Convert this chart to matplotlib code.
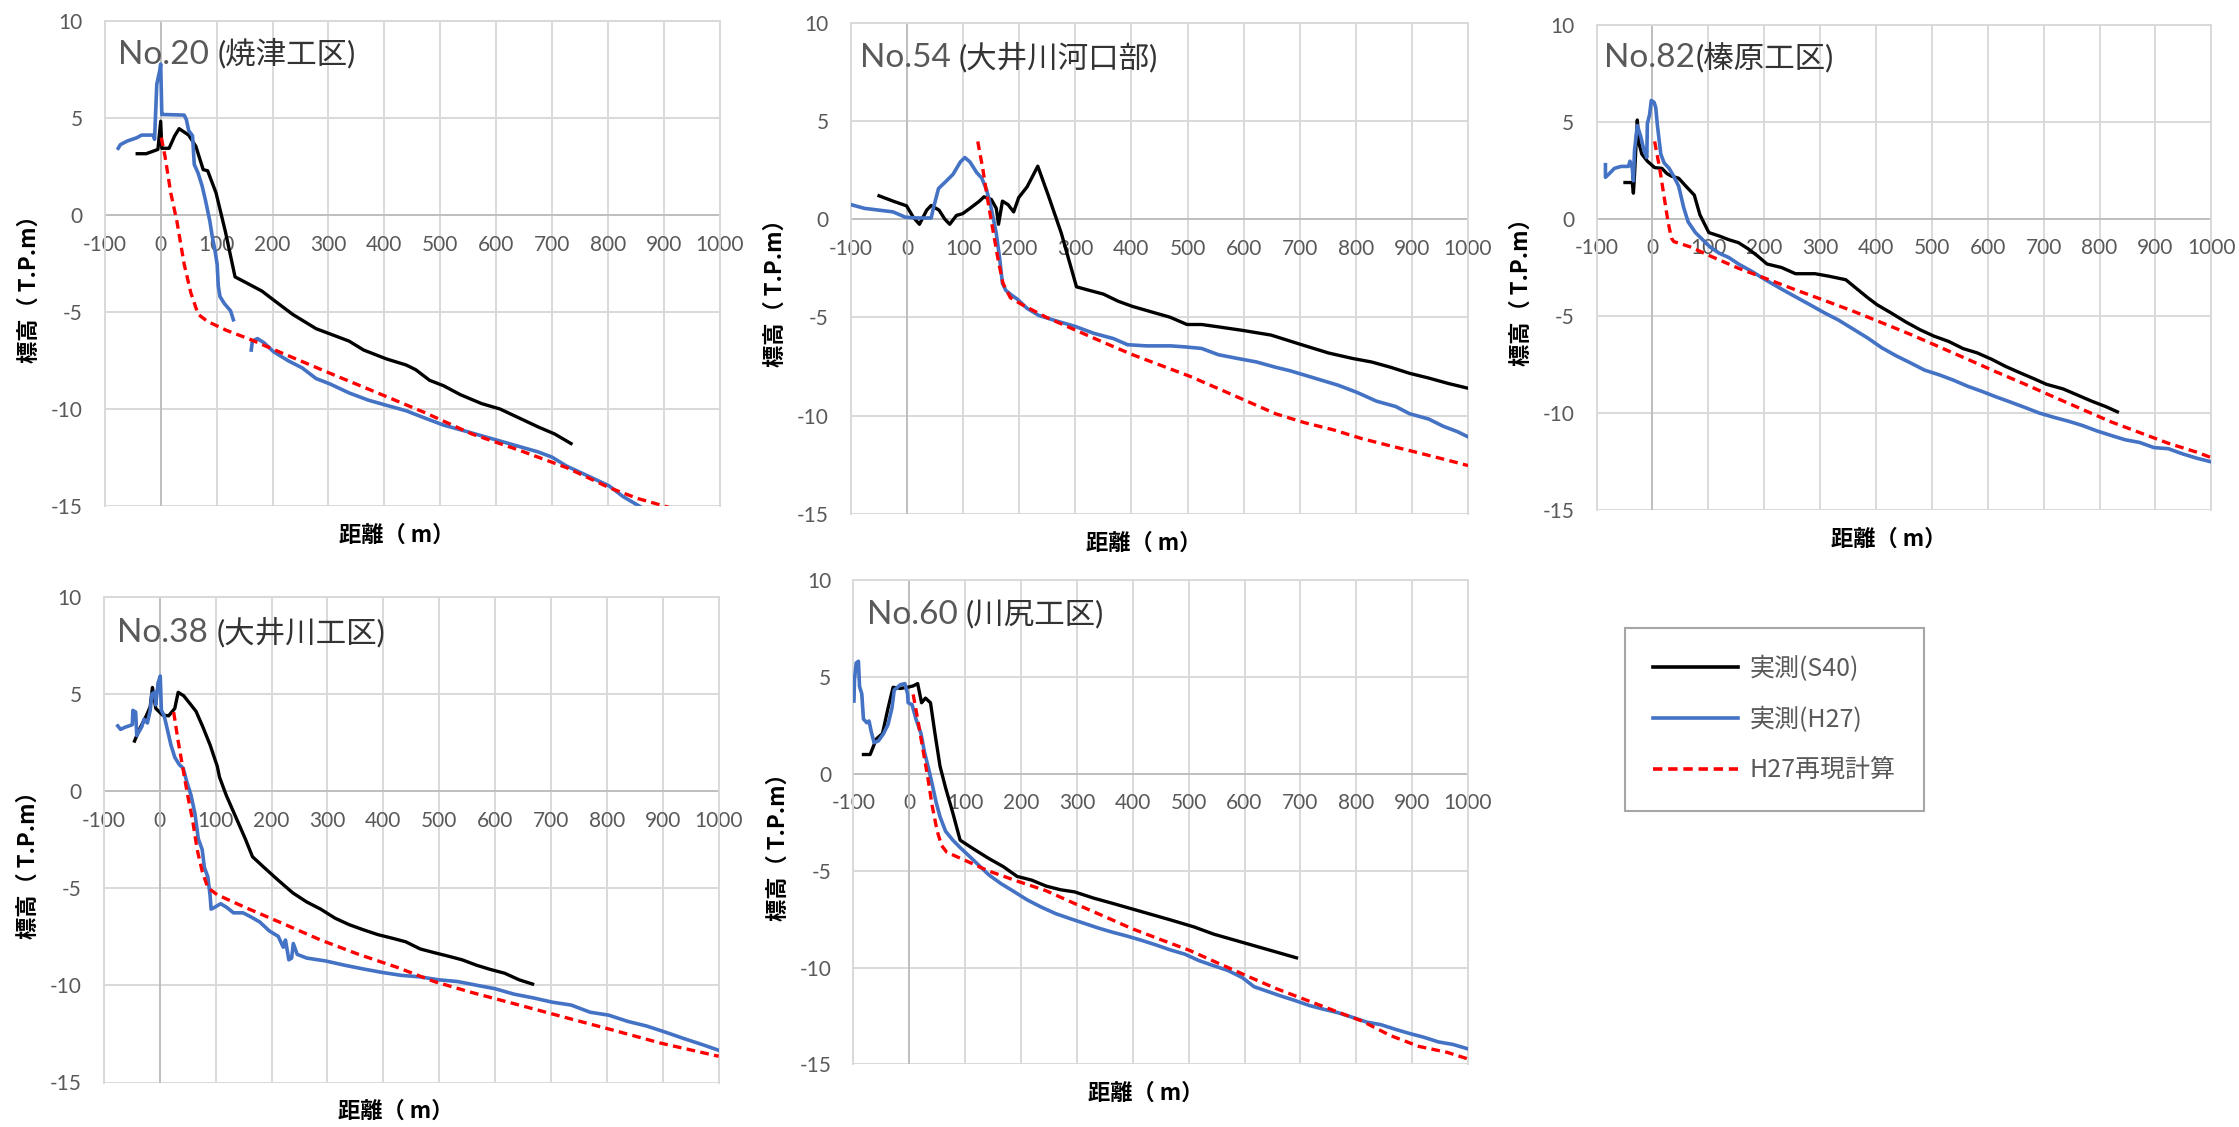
import numpy as np
import matplotlib
matplotlib.use("Agg")
import matplotlib.pyplot as plt
from matplotlib.lines import Line2D

plt.rcParams['axes.unicode_minus'] = False

JP = ['Noto Sans CJK JP', 'DejaVu Sans']
LATIN = ['Lato', 'Noto Sans CJK JP', 'DejaVu Sans']
TXT_GRAY = '#595959'
GRID = '#d9d9d9'
AXLINE = '#bfbfbf'

# ---- No.20 焼津工区 ----
no20_s40_x = [-42, -26, -5, 0, 2, 15, 25, 33, 50, 63, 76, 84, 99, 116, 133, 151, 181, 206, 236, 278,
              303, 337, 363, 404, 439, 456, 481, 506, 536, 574, 607, 641, 675, 705, 734]
no20_s40_y = [3.18, 3.18, 3.4, 4.85, 3.46, 3.46, 4.1, 4.47, 4.14, 3.55, 2.36, 2.3, 1.16, -0.87, -3.17,
              -3.44, -3.9, -4.45, -5.1, -5.84, -6.11, -6.48, -6.94, -7.4, -7.71, -7.95, -8.5, -8.78,
              -9.24, -9.7, -9.98, -10.44, -10.9, -11.27, -11.76]
no20_h27_x = [-76, -72, -60, -43, -34, -13, -11, -7, -2, 0, 2, 6, 42, 46, 50, 57, 60, 67, 74, 80, 84,
              88, 92, 97, 101, 103, 106, 114, 125, 130, np.nan, 162, 164, 173, 185, 202, 228, 253, 278,
              303, 337, 371, 404, 439, 472, 506, 540, 574, 607, 641, 675, 700, 726, 768, 802, 827, 857, 880]
no20_h27_y = [3.46, 3.65, 3.83, 4.0, 4.14, 4.14, 3.92, 6.77, 7.42, 7.8, 5.2, 5.2, 5.17, 4.93, 4.38, 4.1,
              2.63, 2.17, 1.53, 0.79, 0.24, -0.31, -1.05, -1.79, -2.52, -3.63, -4.18, -4.55, -4.92,
              -5.38, np.nan, -6.94, -6.48, -6.35, -6.57, -7.03, -7.49, -7.86, -8.41, -8.69, -9.15,
              -9.52, -9.79, -10.07, -10.44, -10.81, -11.08, -11.36, -11.63, -11.91, -12.19, -12.46,
              -12.92, -13.48, -13.94, -14.49, -15.0, -15.4]
no20_calc_x = [1, 8, 18, 29, 42, 54, 67, 84, 118, 160, 219, 303, 388, 472, 557, 641, 726, 802, 852, 915]
no20_calc_y = [4.01, 3.0, 1.16, -0.31, -2.52, -4.0, -5.1, -5.47, -5.93, -6.39, -7.12, -8.14, -9.15,
               -10.16, -11.27, -12.1, -13.0, -14.03, -14.58, -15.1]

# ---- No.54 大井川河口部 ----
no54_s40_x = [-50, -25, -1, 11, 22, 35, 43, 57, 67, 76, 88, 99, 112, 129, 137, 150, 159, 163, 170, 180,
              190, 199, 214, 233, 252, 275, 302, 325, 350, 376, 402, 436, 469, 499, 525, 555, 598, 649,
              700, 751, 794, 828, 862, 896, 930, 964, 1003]
no54_s40_y = [1.2, 0.93, 0.69, 0.11, -0.25, 0.47, 0.71, 0.47, 0.02, -0.25, 0.2, 0.29, 0.56, 0.93, 1.15,
              1.02, 0.56, -0.25, 0.93, 0.75, 0.38, 1.11, 1.66, 2.71, 1.2, -0.71, -3.44, -3.62, -3.81,
              -4.17, -4.44, -4.72, -4.99, -5.36, -5.36, -5.48, -5.66, -5.9, -6.36, -6.81, -7.09, -7.27,
              -7.54, -7.85, -8.09, -8.36, -8.63]
no54_h27_x = [-100, -76, -50, -25, -3, 18, 43, 46, 56, 69, 82, 95, 103, 112, 124, 133, 142, 150, 159,
              165, 170, 176, 184, 197, 214, 235, 265, 299, 333, 368, 393, 427, 470, 495, 525, 555, 589,
              623, 657, 683, 726, 768, 802, 837, 871, 896, 930, 956, 981, 1003]
no54_h27_y = [0.75, 0.56, 0.47, 0.38, 0.11, 0.07, 0.07, 0.47, 1.57, 1.93, 2.3, 2.93, 3.15, 2.93, 2.39,
              2.11, 1.48, 0.56, -0.71, -1.99, -3.26, -3.62, -3.81, -4.08, -4.54, -4.9, -5.17, -5.45,
              -5.81, -6.08, -6.39, -6.45, -6.45, -6.5, -6.58, -6.9, -7.09, -7.27, -7.54, -7.72, -8.09,
              -8.45, -8.82, -9.27, -9.54, -9.91, -10.18, -10.55, -10.82, -11.13]
no54_calc_x = [126, 135, 144, 154, 163, 171, 184, 205, 248, 299, 350, 402, 453, 504, 555, 606, 657, 708,
               760, 811, 862, 913, 964, 1000]
no54_calc_y = [3.97, 2.57, 0.93, -0.71, -2.17, -3.26, -3.99, -4.35, -4.99, -5.63, -6.27, -6.9, -7.45,
               -8.0, -8.63, -9.27, -9.91, -10.36, -10.73, -11.18, -11.55, -11.91, -12.28, -12.55]

# ---- No.82 榛原工区 ----
no82_s40_x = [-49, -36, -34, -32, -27, -24, -19, -9, 4, 17, 26, 34, 47, 60, 75, 85, 101, 120, 137, 154,
              171, 188, 205, 231, 256, 291, 316, 346, 368, 385, 402, 427, 453, 479, 504, 530, 556, 581,
              607, 632, 658, 684, 705, 735, 761, 786, 812, 832]
no82_s40_y = [1.88, 1.88, 1.33, 2.25, 5.1, 3.9, 3.35, 2.98, 2.65, 2.61, 2.34, 2.21, 2.1, 1.69, 1.23,
              0.22, -0.7, -0.88, -1.07, -1.22, -1.53, -1.9, -2.32, -2.5, -2.82, -2.82, -2.95, -3.13,
              -3.65, -4.05, -4.42, -4.84, -5.3, -5.71, -6.04, -6.31, -6.68, -6.9, -7.23, -7.6, -7.93,
              -8.25, -8.52, -8.76, -9.08, -9.39, -9.68, -9.94]
no82_h27_x = [-84, -84, -77, -68, -56, -43, -40, -36, -34, -32, -27, -21, -15, -10, -9, -5, -2, 3, 6, 9,
              15, 21, 30, 38, 47, 56, 64, 77, 90, 103, 120, 137, 154, 179, 205, 231, 256, 282, 308, 333,
              359, 385, 410, 436, 462, 487, 513, 538, 564, 590, 615, 641, 667, 692, 718, 744, 769, 795,
              821, 846, 872, 897, 923, 949, 974, 1000]
no82_h27_y = [2.8, 2.15, 2.34, 2.61, 2.71, 2.71, 2.98, 2.61, 1.97, 3.53, 4.82, 4.27, 3.53, 3.17, 4.92,
              5.38, 6.11, 6.02, 5.74, 4.82, 3.35, 2.89, 2.61, 2.21, 1.69, 0.59, -0.15, -0.7, -1.07,
              -1.44, -1.77, -1.99, -2.32, -2.72, -3.18, -3.61, -4.01, -4.42, -4.84, -5.21, -5.67, -6.13,
              -6.63, -7.05, -7.42, -7.79, -8.03, -8.3, -8.62, -8.89, -9.17, -9.44, -9.72, -10.0, -10.22,
              -10.42, -10.64, -10.92, -11.16, -11.38, -11.52, -11.78, -11.84, -12.11, -12.33, -12.52]
no82_calc_x = [4, 13, 21, 28, 34, 38, 68, 103, 154, 205, 256, 308, 359, 410, 462, 513, 564, 615, 667,
               718, 769, 821, 872, 923, 974, 1000]
no82_calc_y = [4.0, 2.61, 1.14, -0.15, -0.98, -1.16, -1.44, -1.9, -2.54, -3.09, -3.65, -4.2, -4.75,
               -5.34, -5.95, -6.59, -7.23, -7.88, -8.52, -9.17, -9.81, -10.46, -11.01, -11.56, -12.02, -12.3]

# ---- No.38 大井川工区 ----
no38_s40_x = [-45, -37, -24, -17, -13, -7, 5, 16, 27, 33, 43, 56, 65, 77, 90, 103, 107, 119, 136, 153,
              166, 187, 212, 238, 263, 288, 314, 339, 364, 390, 415, 440, 466, 491, 516, 541, 567, 592,
              617, 643, 667]
no38_s40_y = [2.59, 3.15, 3.89, 4.36, 5.35, 4.27, 3.93, 3.89, 4.27, 5.1, 4.92, 4.45, 4.12, 3.33, 2.4,
              1.29, 0.73, -0.2, -1.32, -2.44, -3.37, -3.93, -4.58, -5.23, -5.7, -6.07, -6.54, -6.87,
              -7.13, -7.38, -7.56, -7.75, -8.12, -8.31, -8.49, -8.68, -8.96, -9.18, -9.37, -9.71, -9.93]
no38_h27_x = [-75, -70, -62, -49, -48, -43, -41, -32, -28, -22, -17, -14, -9, -7, -3, 1, 3, 8, 14, 20,
              27, 35, 42, 48, 56, 63, 69, 76, 80, 86, 90, 92, 98, 109, 120, 132, 149, 162, 179, 196, 212,
              221, 225, 231, 236, 239, 246, 263, 297, 331, 364, 398, 432, 466, 499, 533, 567, 600, 634,
              668, 702, 736, 770, 803, 837, 871, 905, 938, 972, 1000]
no38_h27_y = [3.37, 3.19, 3.3, 3.43, 4.17, 4.08, 2.87, 3.33, 3.71, 3.52, 4.17, 5.01, 5.1, 4.45, 5.57,
              5.94, 4.17, 3.89, 3.15, 2.4, 1.75, 1.38, 1.19, 0.54, -0.2, -1.14, -2.44, -3.0, -3.93, -4.4,
              -5.33, -6.07, -5.98, -5.79, -5.98, -6.26, -6.26, -6.45, -6.73, -7.19, -7.47, -8.03, -7.66,
              -8.68, -8.59, -7.84, -8.4, -8.59, -8.74, -8.96, -9.15, -9.33, -9.48, -9.56, -9.71, -9.8,
              -9.99, -10.17, -10.45, -10.64, -10.86, -11.01, -11.38, -11.53, -11.85, -12.09, -12.41,
              -12.74, -13.06, -13.34]
no38_calc_x = [25, 33, 42, 50, 59, 67, 76, 86, 103, 153, 221, 288, 356, 423, 491, 558, 643, 727, 812,
               896, 1000]
no38_calc_y = [4.08, 2.59, 1.1, -0.2, -1.51, -3.0, -4.12, -4.96, -5.33, -5.98, -6.82, -7.66, -8.4,
               -9.05, -9.8, -10.36, -11.01, -11.66, -12.31, -12.97, -13.65]

# ---- No.60 川尻工区 ----
no60_s40_x = [-82, -70, -59, -48, -38, -29, -16, -3, 7, 15, 22, 29, 38, 46, 55, 65, 78, 91, 116, 142,
              168, 193, 219, 245, 271, 296, 330, 365, 399, 433, 467, 510, 545, 579, 613, 647, 693]
no60_s40_y = [0.99, 0.99, 1.79, 2.07, 3.38, 4.46, 4.4, 4.46, 4.53, 4.65, 3.66, 3.9, 3.66, 2.07, 0.39,
              -0.73, -2.03, -3.43, -3.9, -4.37, -4.79, -5.3, -5.49, -5.8, -5.99, -6.1, -6.42, -6.7,
              -6.98, -7.26, -7.54, -7.91, -8.28, -8.56, -8.84, -9.12, -9.5]
no60_h27_x = [-99, -98, -95, -91, -89, -85, -82, -76, -72, -68, -63, -55, -46, -38, -31, -27, -16, -8,
              -3, -2, 5, 12, 21, 27, 35, 41, 48, 55, 65, 78, 91, 108, 125, 142, 164, 185, 211, 236, 262,
              288, 313, 339, 365, 390, 416, 442, 467, 493, 519, 545, 570, 596, 617, 639, 664, 690, 716,
              741, 767, 793, 819, 844, 870, 896, 921, 947, 973, 1000]
no60_h27_y = [3.75, 4.87, 5.71, 5.8, 4.5, 4.12, 2.82, 2.63, 2.72, 2.16, 1.6, 1.7, 2.07, 2.54, 3.38,
              4.31, 4.59, 4.65, 4.12, 3.66, 3.56, 2.82, 2.07, 1.14, 0.21, -0.54, -1.47, -2.22, -2.97,
              -3.43, -3.81, -4.27, -4.74, -5.21, -5.67, -6.04, -6.51, -6.88, -7.22, -7.48, -7.72, -7.97,
              -8.19, -8.38, -8.6, -8.84, -9.09, -9.31, -9.65, -9.91, -10.15, -10.52, -10.99, -11.21,
              -11.46, -11.7, -11.96, -12.15, -12.33, -12.57, -12.82, -12.95, -13.19, -13.41, -13.6,
              -13.84, -13.97, -14.2]
no60_calc_x = [7, 15, 24, 33, 41, 50, 58, 67, 99, 142, 193, 245, 296, 348, 399, 450, 502, 553, 604, 656,
               707, 758, 810, 861, 912, 963, 1000]
no60_calc_y = [4.09, 2.82, 1.32, -0.17, -1.66, -2.97, -3.71, -4.05, -4.46, -5.02, -5.54, -6.04, -6.7,
               -7.35, -8.0, -8.56, -9.12, -9.78, -10.43, -11.08, -11.64, -12.2, -12.76, -13.51, -14.07,
               -14.38, -14.72]

x_ticks = list(range(-100, 1001, 100))
y_ticks = list(range(-15, 11, 5))
legend_labels = ['実測(S40)', '実測(H27)', 'H27再現計算']

W, H = 2239, 1127
fig = plt.figure(figsize=(W / 100, H / 100), dpi=100)


def px_rect(left, top, right, bottom):
    return [left / W, 1 - bottom / H, (right - left) / W, (bottom - top) / H]


def draw_panel(rect, no, place, title_xy, s40, h27, calc):
    ax = fig.add_axes(rect)
    ax.set_xlim(-100, 1000)
    ax.set_ylim(-15, 10)
    ax.set_xticks(x_ticks)
    ax.set_yticks(y_ticks)
    ax.grid(True, color=GRID, lw=1.4)
    ax.set_axisbelow(True)
    for side in ['top', 'right', 'left']:
        ax.spines[side].set_color(GRID)
        ax.spines[side].set_linewidth(1.4)
    # horizontal axis crosses at 0 like the spreadsheet chart
    ax.spines['bottom'].set_position(('data', 0))
    ax.spines['bottom'].set_color(AXLINE)
    ax.spines['bottom'].set_linewidth(1.4)
    ax.spines['bottom'].set_zorder(1)
    ax.axvline(0, color=AXLINE, lw=1.4, zorder=1)
    ax.tick_params(length=0, labelsize=15, labelcolor=TXT_GRAY)
    ax.tick_params(axis='x', pad=14)
    ax.tick_params(axis='y', pad=16)
    for lab in ax.get_xticklabels() + ax.get_yticklabels():
        lab.set_family(LATIN)

    ax.plot(*s40, color='black', lw=2.4, zorder=3)
    ax.plot(*h27, color='#4472C4', lw=2.6, zorder=4)
    ax.plot(*calc, color='#ff0000', lw=2.4, ls=(0, (2.6, 1.6)), zorder=5)

    tx, ty = title_xy
    t1 = ax.text(tx, ty, no, transform=ax.transAxes, family=LATIN, size=24,
                 color=TXT_GRAY, va='baseline', ha='left')
    ax.annotate(place, xy=(1, ty), xycoords=(t1, 'axes fraction'), family=LATIN,
                size=22, color='#333333', va='baseline', ha='left')

    ax.text(0.475, -0.06, '距離（ m）', transform=ax.transAxes, family=JP, size=16,
            fontweight='bold', ha='center', va='center', color='black')
    ax.text(-0.1224, 0.46, '標高（ T.P.m）', transform=ax.transAxes, family=JP, size=16,
            fontweight='bold', rotation=90, ha='center', va='center', color='black')
    return ax


draw_panel(px_rect(104.8, 21.4, 719.7, 506.4), 'No.20 ', '(焼津工区)', (0.0215, 0.913),
           (no20_s40_x, no20_s40_y), (no20_h27_x, no20_h27_y), (no20_calc_x, no20_calc_y))
draw_panel(px_rect(851, 23.2, 1468, 513.6), 'No.54 ', '(大井川河口部)', (0.014, 0.9105),
           (no54_s40_x, no54_s40_y), (no54_h27_x, no54_h27_y), (no54_calc_x, no54_calc_y))
draw_panel(px_rect(1596.5, 25, 2211.3, 510), 'No.82', '(榛原工区)', (0.013, 0.913),
           (no82_s40_x, no82_s40_y), (no82_h27_x, no82_h27_y), (no82_calc_x, no82_calc_y))
draw_panel(px_rect(103.8, 597.2, 718.7, 1082.5), 'No.38 ', '(大井川工区)', (0.0215, 0.907),
           (no38_s40_x, no38_s40_y), (no38_h27_x, no38_h27_y), (no38_calc_x, no38_calc_y))
draw_panel(px_rect(853.4, 579.9, 1468, 1064.4), 'No.60 ', '(川尻工区)', (0.0216, 0.908),
           (no60_s40_x, no60_s40_y), (no60_h27_x, no60_h27_y), (no60_calc_x, no60_calc_y))

handles = [Line2D([], [], color='black', lw=2.6),
           Line2D([], [], color='#4472C4', lw=2.6),
           Line2D([], [], color='#ff0000', lw=2.6, ls=(0, (2.6, 1.6)))]
leg = fig.legend(handles, legend_labels, loc='upper left',
                 bbox_to_anchor=(1625 / W, 1 - 628 / H), bbox_transform=fig.transFigure,
                 frameon=True, fancybox=False, edgecolor='#a6a6a6', framealpha=1,
                 prop={'family': JP, 'size': 18}, labelcolor=TXT_GRAY,
                 handlelength=3.4, handletextpad=0.5, borderpad=1.1, labelspacing=1.0,
                 borderaxespad=0)
leg.get_frame().set_linewidth(1.5)

fig.savefig('out.png', dpi=100)
